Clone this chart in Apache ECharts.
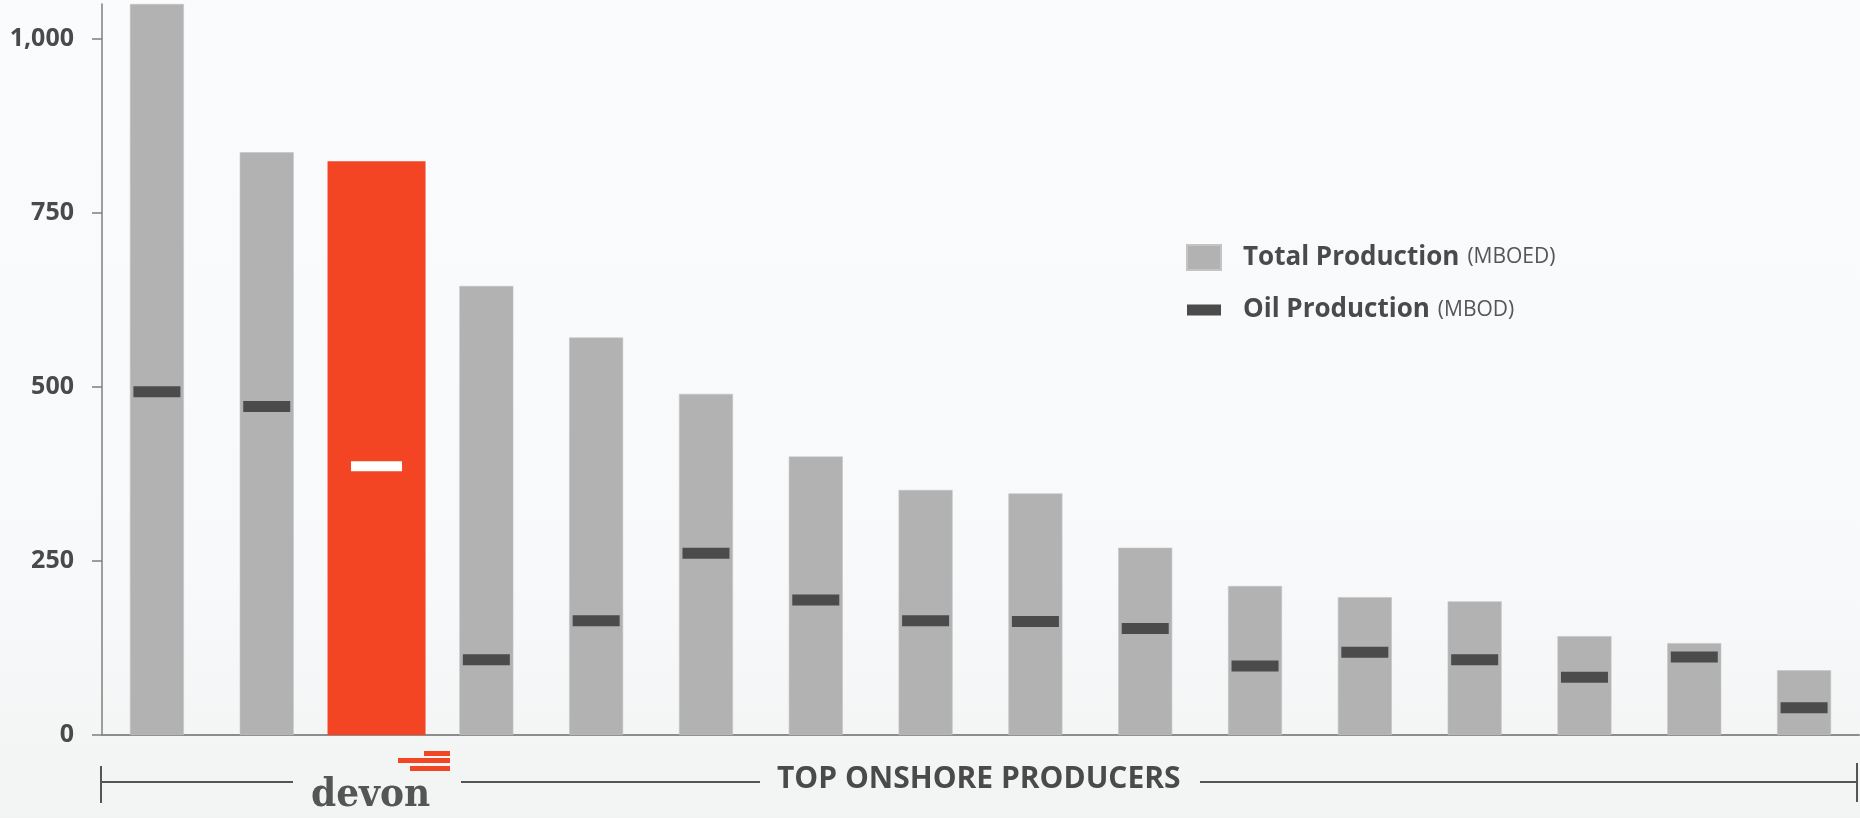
<!DOCTYPE html>
<html>
<head>
<meta charset="utf-8">
<script src="https://cdn.jsdelivr.net/npm/echarts@6/dist/echarts.min.js"></script>
<style>
html,body{margin:0;padding:0;background:#fafbfc;}
#chart{width:1860px;height:818px;}
</style>
</head>
<body>
<div id="chart"></div>
<script>
// ---- data ----
const categories = ['Producer 1','Producer 2','Devon','Producer 4','Producer 5','Producer 6','Producer 7','Producer 8','Producer 9','Producer 10','Producer 11','Producer 12','Producer 13','Producer 14','Producer 15','Producer 16'];
const totalProduction = [1050, 837, 824, 645, 571, 490, 400, 352, 347, 269, 214, 198, 192, 142, 132, 93];
const oilProduction = [493, 472, 386, 108, 164, 261, 194, 164, 163, 153, 99, 119, 108, 83, 112, 39];
const highlightName = 'Devon';
const yTickValues = [0, 250, 500, 750, 1000];
const seriesNames = ['Total Production', 'Oil Production'];
const seriesUnits = ['(MBOED)', '(MBOD)'];
const axisTitle = 'TOP ONSHORE PRODUCERS';
const logoText = 'devon';

const hi = categories.indexOf(highlightName);
const grayData = totalProduction.map((v, i) => i === hi ? null : v);
const redData = totalProduction.map((v, i) => i === hi ? v : null);
const oilData = oilProduction.map((v, i) => i === hi
  ? { value: v, symbol: 'rect', symbolSize: [51, 10], itemStyle: { color: '#ffffff' } }
  : v);

const chart = echarts.init(document.getElementById('chart'), null, { renderer: 'canvas' });
const lineColor = '#555555';
const option = {
  animation: false,
  backgroundColor: {
    type: 'linear', x: 0, y: 0, x2: 0, y2: 1,
    colorStops: [
      { offset: 0, color: '#fafbfc' },
      { offset: 0.7, color: '#f8f9fa' },
      { offset: 1, color: '#f2f4f4' }
    ]
  },
  grid: { left: 102, right: 1, top: 4, bottom: 83, containLabel: false },
  xAxis: [
    {
      type: 'category', data: categories,
      axisLine: { show: true, lineStyle: { color: '#8c8c8c', width: 2 } },
      axisTick: { show: false }, axisLabel: { show: false }, splitLine: { show: false }
    },
    {
      type: 'category', data: categories, show: false
    }
  ],
  yAxis: {
    type: 'value', min: 0, max: 1050, interval: 250,
    axisLine: { show: true, lineStyle: { color: '#7f7f7f', width: 1.5 } },
    axisTick: { show: true, length: 10, lineStyle: { color: '#7f7f7f', width: 1.5 }, customValues: yTickValues },
    axisLabel: {
      customValues: yTickValues,
      margin: 28, color: '#4a4a4a', fontFamily: 'Open Sans', fontWeight: 'bold', fontSize: 25,
      formatter: v => v.toLocaleString('en-US')
    },
    splitLine: { show: false }
  },
  legend: {
    orient: 'vertical', left: 1181, top: 239,
    itemWidth: 34, itemHeight: 25, itemGap: 26,
    data: [
      { name: seriesNames[0], icon: 'rect' },
      { name: seriesNames[1], icon: 'path://M0,0M34,25M0,7L34,7L34,18L0,18Z' }
    ],
    formatter: name => {
      const i = seriesNames.indexOf(name);
      return '{s|}{b|' + name + '}{g|}{n|' + seriesUnits[i] + '}';
    },
    textStyle: {
      rich: {
        s: { width: 17 },
        g: { width: 8 },
        b: { fontFamily: 'Open Sans', fontWeight: 'bold', fontSize: 26, color: '#4a4a4a', lineHeight: 25 },
        n: { fontFamily: 'Open Sans', fontSize: 21, color: '#555555', lineHeight: 25 }
      }
    }
  },
  series: [
    {
      name: seriesNames[0], type: 'bar', xAxisIndex: 0, data: grayData,
      barWidth: 54, itemStyle: { color: '#b2b2b2', borderColor: '#c4c4c4', borderWidth: 0.6 }, z: 2
    },
    {
      name: 'Devon Total', type: 'bar', xAxisIndex: 1, data: redData,
      barWidth: 98, itemStyle: { color: '#f34423' }, z: 2
    },
    {
      name: seriesNames[1], type: 'scatter', xAxisIndex: 0, data: oilData,
      symbol: 'rect', symbolSize: [47, 11],
      itemStyle: { color: '#4b4b4b', opacity: 1 }, z: 5
    }
  ],
  graphic: [
    { type: 'line', shape: { x1: 101, y1: 766, x2: 101, y2: 803 }, style: { stroke: lineColor, lineWidth: 2 } },
    { type: 'line', shape: { x1: 101, y1: 782, x2: 293, y2: 782 }, style: { stroke: lineColor, lineWidth: 2 } },
    { type: 'line', shape: { x1: 461, y1: 782, x2: 760, y2: 782 }, style: { stroke: lineColor, lineWidth: 2 } },
    { type: 'line', shape: { x1: 1200, y1: 782, x2: 1857, y2: 782 }, style: { stroke: lineColor, lineWidth: 2 } },
    { type: 'line', shape: { x1: 1857, y1: 763, x2: 1857, y2: 802 }, style: { stroke: lineColor, lineWidth: 2 } },
    { type: 'text', left: 777, top: 764, style: { text: axisTitle, fill: '#4a4a4a', font: 'bold 30px "Open Sans"' } },
    { type: 'rect', shape: { x: 424, y: 751, width: 26, height: 5 }, style: { fill: '#f34423' } },
    { type: 'rect', shape: { x: 398, y: 758, width: 52, height: 5 }, style: { fill: '#f34423' } },
    { type: 'rect', shape: { x: 410, y: 766, width: 40, height: 5 }, style: { fill: '#f34423' } },
    { type: 'text', left: 311, top: 776, style: { text: logoText, fill: '#555555', font: 'bold 40px "DejaVu Serif Condensed", "DejaVu Serif"' } }
  ]
};
chart.setOption(option);
</script>
</body>
</html>
